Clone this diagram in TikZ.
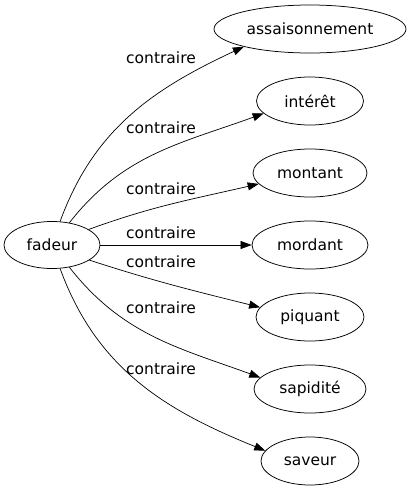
\documentclass[tikz,border=0pt]{standalone}
\usepackage{fontspec}
\setmainfont{DejaVu Sans}
\usetikzlibrary{shapes.geometric,arrows.meta}
\begin{document}
\begin{tikzpicture}[x=1pt,y=-1pt,
  word/.style={draw,line width=0.75pt,ellipse,inner sep=0pt,font=\fontsize{15.5}{18}\selectfont},
  lab/.style={inner sep=0pt,font=\fontsize{15.5}{18}\selectfont},
  rel/.style={draw,line width=0.7pt,-{Triangle[length=11pt,width=8pt]}}]
\useasboundingbox (0,0) rectangle (411,491);
\node[word,minimum width=96pt,minimum height=47pt] (fadeur) at (52,245) {fadeur};
\node[word,minimum width=192pt,minimum height=48pt] (assai) at (310,29) {assaisonnement};
\node[word,minimum width=107pt,minimum height=48pt] (interet) at (310,101) {intérêt};
\node[word,minimum width=114pt,minimum height=48pt] (montant) at (310,173) {montant};
\node[word,minimum width=116pt,minimum height=48pt] (mordant) at (310,245) {mordant};
\node[word,minimum width=108pt,minimum height=48pt] (piquant) at (310,317) {piquant};
\node[word,minimum width=112pt,minimum height=48pt] (sapidite) at (310,389) {sapidité};
\node[word,minimum width=98pt,minimum height=48pt] (saveur) at (310,461) {saveur};
\draw[rel] (fadeur.71) to[out=70,in=205] (assai.195);
\draw[rel] (fadeur.52) to[out=52,in=200] (interet.195);
\draw[rel] (fadeur.23) to[out=20,in=193] (montant.192);
\draw[rel] (fadeur.east) -- (mordant.west);
\draw[rel] (fadeur.338) to[out=-18,in=166] (piquant.169);
\draw[rel] (fadeur.308) to[out=-52,in=160] (sapidite.167);
\draw[rel] (fadeur.289) to[out=-70,in=158] (saveur.167);
\node[lab] (l1) at (161,58) {contraire};
\node[lab] (l2) at (161,128) {contraire};
\node[lab] (l3) at (161,189) {contraire};
\node[lab] (l4) at (161,233) {contraire};
\node[lab] (l5) at (161,262) {contraire};
\node[lab] (l6) at (161,308) {contraire};
\node[lab] (l7) at (161,369) {contraire};
\end{tikzpicture}
\end{document}
